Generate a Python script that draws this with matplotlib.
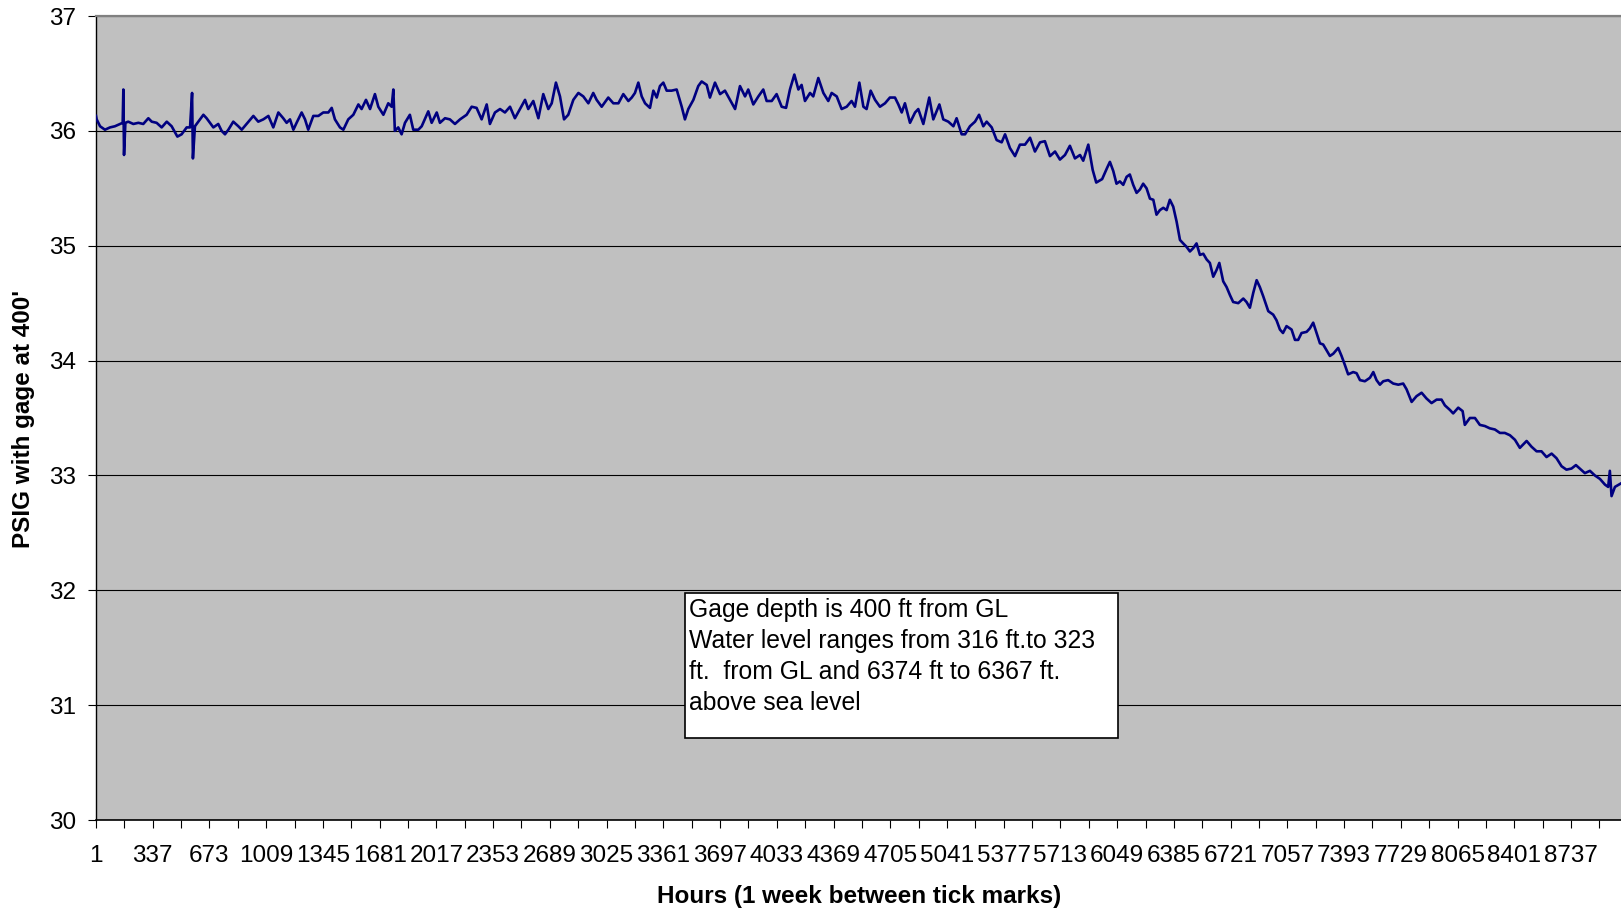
import matplotlib
matplotlib.use("Agg")
import matplotlib.pyplot as plt
from matplotlib.patches import Rectangle

plt.rcParams['font.family'] = ['Liberation Sans', 'DejaVu Sans']

# hourly gage record (hour, PSIG)
hours = [1, 5, 25, 54, 84, 113, 143, 159, 163, 167, 175, 192, 222, 252, 281, 311, 331, 360, 390, 420,
         449, 483, 508, 538, 558, 570, 575, 587, 617, 637, 656, 676, 696, 725, 745, 765, 785, 814, 844, 864,
         893, 933, 962, 992, 1022, 1051, 1081, 1110, 1130, 1150, 1170, 1189, 1219, 1239, 1258, 1288, 1318, 1347, 1377, 1397,
         1416, 1446, 1466, 1495, 1525, 1555, 1574, 1600, 1624, 1653, 1673, 1703, 1732, 1752, 1762, 1771, 1791, 1811, 1831, 1860,
         1880, 1910, 1930, 1969, 1989, 2019, 2038, 2068, 2097, 2127, 2157, 2196, 2226, 2255, 2285, 2315, 2334, 2364, 2394, 2423,
         2453, 2482, 2512, 2542, 2561, 2591, 2621, 2650, 2680, 2700, 2725, 2749, 2773, 2798, 2828, 2858, 2887, 2917, 2946, 2966,
         2996, 3035, 3065, 3095, 3124, 3154, 3174, 3193, 3213, 3233, 3253, 3282, 3302, 3322, 3341, 3361, 3381, 3410, 3440, 3470,
         3489, 3509, 3539, 3568, 3588, 3618, 3637, 3667, 3697, 3726, 3756, 3786, 3815, 3845, 3864, 3894, 3924, 3953, 3973, 4003,
         4032, 4062, 4088, 4111, 4137, 4161, 4180, 4200, 4230, 4249, 4279, 4309, 4338, 4358, 4388, 4417, 4447, 4476, 4496, 4522,
         4546, 4565, 4589, 4615, 4644, 4674, 4703, 4733, 4753, 4773, 4792, 4822, 4852, 4871, 4901, 4936, 4960, 4996, 5019, 5049,
         5079, 5098, 5128, 5148, 5177, 5207, 5231, 5256, 5276, 5306, 5335, 5365, 5385, 5414, 5444, 5473, 5503, 5533, 5562, 5592,
         5621, 5651, 5681, 5710, 5740, 5769, 5799, 5829, 5848, 5878, 5904, 5925, 5960, 5990, 6006, 6026, 6045, 6065, 6085, 6105,
         6124, 6144, 6164, 6184, 6203, 6223, 6243, 6263, 6282, 6302, 6322, 6342, 6361, 6381, 6401, 6421, 6440, 6460, 6480, 6500,
         6519, 6539, 6559, 6579, 6598, 6618, 6638, 6654, 6677, 6697, 6717, 6736, 6766, 6796, 6815, 6835, 6855, 6875, 6894, 6914,
         6944, 6973, 6993, 7013, 7031, 7052, 7082, 7102, 7121, 7141, 7171, 7190, 7210, 7230, 7250, 7269, 7289, 7309, 7329, 7358,
         7378, 7398, 7417, 7447, 7467, 7487, 7516, 7546, 7566, 7585, 7605, 7625, 7654, 7684, 7714, 7743, 7763, 7793, 7822, 7852,
         7881, 7911, 7941, 7970, 7990, 8020, 8039, 8069, 8095, 8108, 8138, 8168, 8197, 8227, 8256, 8286, 8316, 8345, 8375, 8405,
         8434, 8474, 8503, 8533, 8562, 8592, 8622, 8651, 8681, 8710, 8740, 8766, 8789, 8819, 8849, 8878, 8908, 8938, 8957, 8967,
         8977, 8997, 9032]
psig = [36.13, 36.10, 36.04, 36.01, 36.03, 36.04, 36.06, 36.07, 36.36, 35.79, 36.07, 36.08, 36.06, 36.07, 36.06, 36.11, 36.08, 36.07, 36.03, 36.08,
        36.04, 35.95, 35.97, 36.03, 36.03, 36.33, 35.76, 36.04, 36.10, 36.14, 36.11, 36.07, 36.03, 36.06, 36.00, 35.97, 36.01, 36.08, 36.04, 36.01,
        36.06, 36.13, 36.08, 36.10, 36.13, 36.03, 36.16, 36.11, 36.07, 36.10, 36.01, 36.07, 36.16, 36.10, 36.01, 36.13, 36.13, 36.16, 36.16, 36.20,
        36.10, 36.03, 36.01, 36.10, 36.14, 36.23, 36.19, 36.27, 36.19, 36.32, 36.21, 36.14, 36.24, 36.21, 36.36, 36.00, 36.03, 35.97, 36.07, 36.14,
        36.01, 36.01, 36.04, 36.17, 36.07, 36.16, 36.07, 36.11, 36.10, 36.06, 36.10, 36.14, 36.21, 36.20, 36.10, 36.23, 36.06, 36.16, 36.19, 36.16,
        36.21, 36.11, 36.19, 36.27, 36.19, 36.26, 36.11, 36.32, 36.19, 36.24, 36.42, 36.30, 36.10, 36.14, 36.27, 36.33, 36.30, 36.24, 36.33, 36.27,
        36.21, 36.29, 36.24, 36.24, 36.32, 36.26, 36.29, 36.33, 36.42, 36.30, 36.24, 36.20, 36.35, 36.29, 36.39, 36.42, 36.35, 36.35, 36.36, 36.21,
        36.10, 36.19, 36.27, 36.39, 36.43, 36.40, 36.29, 36.42, 36.32, 36.35, 36.27, 36.19, 36.39, 36.30, 36.36, 36.23, 36.30, 36.36, 36.26, 36.26,
        36.32, 36.21, 36.20, 36.36, 36.49, 36.36, 36.40, 36.26, 36.33, 36.30, 36.46, 36.33, 36.26, 36.33, 36.30, 36.19, 36.21, 36.26, 36.21, 36.42,
        36.21, 36.19, 36.35, 36.27, 36.21, 36.24, 36.29, 36.29, 36.23, 36.16, 36.24, 36.07, 36.16, 36.19, 36.06, 36.29, 36.10, 36.23, 36.10, 36.08,
        36.04, 36.11, 35.97, 35.97, 36.04, 36.08, 36.14, 36.04, 36.08, 36.03, 35.92, 35.90, 35.97, 35.85, 35.78, 35.88, 35.88, 35.94, 35.82, 35.90,
        35.91, 35.78, 35.82, 35.75, 35.79, 35.87, 35.76, 35.79, 35.74, 35.88, 35.66, 35.55, 35.58, 35.68, 35.73, 35.65, 35.54, 35.56, 35.53, 35.60,
        35.62, 35.53, 35.46, 35.49, 35.54, 35.50, 35.41, 35.40, 35.27, 35.31, 35.33, 35.31, 35.40, 35.34, 35.21, 35.05, 35.02, 34.99, 34.95, 34.98,
        35.02, 34.92, 34.93, 34.88, 34.85, 34.73, 34.79, 34.85, 34.69, 34.64, 34.57, 34.51, 34.50, 34.54, 34.51, 34.46, 34.59, 34.70, 34.64, 34.56,
        34.43, 34.40, 34.35, 34.27, 34.24, 34.30, 34.27, 34.18, 34.18, 34.24, 34.25, 34.28, 34.33, 34.24, 34.15, 34.14, 34.09, 34.04, 34.06, 34.11,
        34.04, 33.96, 33.88, 33.90, 33.89, 33.83, 33.82, 33.85, 33.90, 33.83, 33.79, 33.82, 33.83, 33.80, 33.79, 33.80, 33.75, 33.64, 33.69, 33.72,
        33.67, 33.63, 33.66, 33.66, 33.61, 33.57, 33.54, 33.59, 33.56, 33.44, 33.50, 33.50, 33.44, 33.43, 33.41, 33.40, 33.37, 33.37, 33.35, 33.31,
        33.24, 33.30, 33.25, 33.21, 33.21, 33.16, 33.19, 33.15, 33.08, 33.05, 33.06, 33.09, 33.06, 33.02, 33.04, 33.00, 32.97, 32.92, 32.90, 33.04,
        32.82, 32.90, 32.93]

week_ticks = list(range(1, 9033, 168))
tick_labels = [str(h) if i % 2 == 0 else '' for i, h in enumerate(week_ticks)]
y_ticks = [30, 31, 32, 33, 34, 35, 36, 37]

note = ("Gage depth is 400 ft from GL\n"
        "Water level ranges from 316 ft.to 323\n"
        "ft.  from GL and 6374 ft to 6367 ft.\n"
        "above sea level")

W, H = 1621, 913
fig = plt.figure(figsize=(W / 100, H / 100), dpi=100)
ax = fig.add_axes([96 / W, 1 - 820 / H, 1 - 96 / W, (820 - 16) / H])
ax.set_facecolor('#c0c0c0')

ax.plot(hours, psig, color='#000080', lw=1.9, zorder=3)

ax.set_xlim(1, 9033)
ax.set_ylim(30, 37)
ax.set_xticks(week_ticks)
ax.set_xticklabels(tick_labels)
ax.set_yticks(y_ticks)
ax.tick_params(axis='both', direction='out', length=6, width=0.8, color='black', labelsize=17.5)
ax.tick_params(axis='x', pad=12)
ax.tick_params(axis='y', pad=8)
ax.yaxis.grid(True, color='black', lw=0.8)
ax.set_axisbelow(True)

ax.spines['top'].set_color('#808080')
ax.spines['top'].set_linewidth(1.6)
ax.spines['right'].set_visible(False)
ax.spines['left'].set_linewidth(1.0)
ax.spines['bottom'].set_linewidth(1.2)

fig.text(859 / W, 1 - 896 / H, 'Hours (1 week between tick marks)', ha='center', va='center',
         fontsize=17.5, fontweight='bold')
fig.text(24 / W, 1 - 419 / H, "PSIG with gage at 400'", ha='center', va='center', rotation=90,
         fontsize=17.5, fontweight='bold')

# annotation box
box = Rectangle((685 / W, 1 - 738 / H), (1118 - 685) / W, (738 - 593) / H, transform=fig.transFigure,
                facecolor='white', edgecolor='black', lw=1.2, zorder=5)
fig.patches.append(box)
fig.text(689 / W, 1 - 598 / H, note, ha='left', va='top', fontsize=17.8, linespacing=1.36, zorder=6)

fig.savefig('out.png', dpi=100)
